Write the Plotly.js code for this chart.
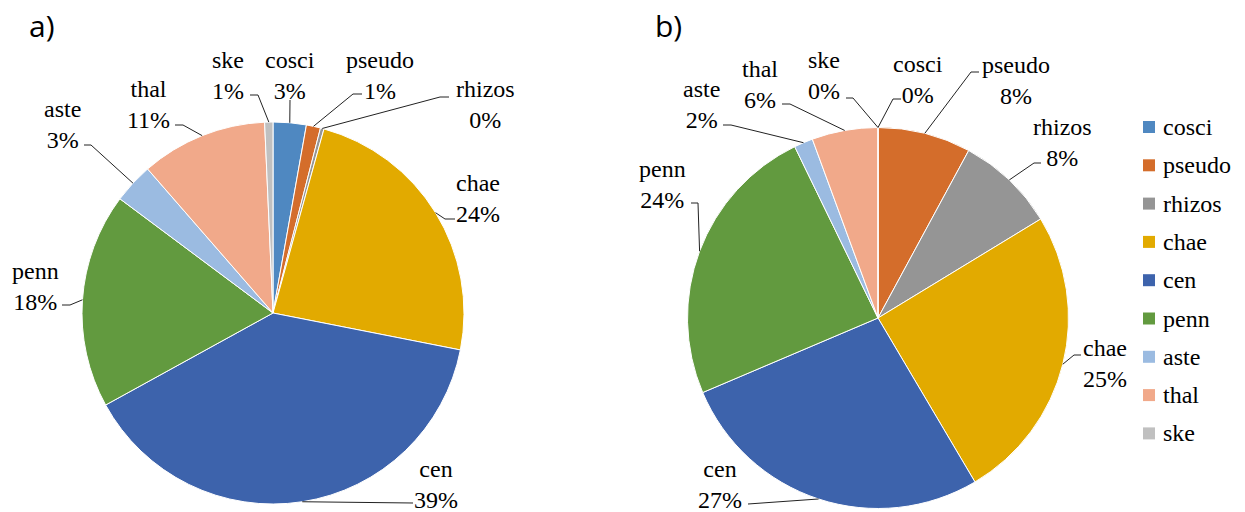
<!DOCTYPE html>
<html>
<head>
<meta charset="utf-8">
<script src="https://cdn.plot.ly/plotly-3.0.1.min.js"></script>
<style>html,body{margin:0;padding:0;background:#fff;}</style>
</head>
<body>
<div id="chart"></div>
<script>
// ---- data ----
const categories = ["cosci","pseudo","rhizos","chae","cen","penn","aste","thal","ske"];
const valuesA = [2.8, 1.2, 0.3, 23.8, 38.9, 18.2, 3.4, 10.7, 0.7];
const valuesB = [0, 7.9, 8.4, 25.2, 27.1, 24.2, 1.6, 5.6, 0];
const panelTitles = ["a)", "b)"];

// ---- styles / layout ----
const colors = ["#4F88C1","#D46D2B","#959595","#E2AA00","#3D63AC","#629A3F","#9BBBE1","#F1A98A","#C0C0C0"];
const W = 1245, H = 512;
const pieA = {cx: 273, cy: 313, r: 191};
const pieB = {cx: 878, cy: 318, r: 190.5};
// label block centres, leader start points and elbow x (pixels)
const labelLayoutA = [
  {c:[290,75],  s:[290,100], e:null},
  {c:[380,75],  s:[362,94],  e:353},
  {c:[485,104], s:[449,97],  e:440},
  {c:[478,198], s:[455,219], e:445},
  {c:[436,484], s:[413,503], e:null},
  {c:[35,286],  s:[62,305],  e:70},
  {c:[62,124],  s:[84,145],  e:91},
  {c:[148,104], s:[175,125], e:183},
  {c:[228,75],  s:[250,95],  e:258}
];
const labelLayoutB = [
  {c:[918,79],   s:[901,99],  e:893},
  {c:[1016,80],  s:[979,72],  e:971},
  {c:[1062,142], s:[1041,163],e:1034},
  {c:[1105,363], s:[1081,355],e:1074},
  {c:[720,484],  s:[748,504], e:null},
  {c:[662,184],  s:[691,203], e:698},
  {c:[701,104],  s:[723,125], e:731},
  {c:[760,84],   s:[782,104], e:790},
  {c:[824,75],   s:[846,98],  e:853}
];
const labelFont = "Liberation Serif";
const labelSize = 24;

const px = x => x / W;
const py = y => 1 - y / H;

function domainOf(p) {
  return {x: [px(p.cx - p.r), px(p.cx + p.r)], y: [py(p.cy + p.r), py(p.cy - p.r)]};
}

function pieTrace(vals, p) {
  return {
    type: "pie", labels: categories, values: vals, sort: false,
    direction: "clockwise", rotation: 0, textinfo: "none", hoverinfo: "label+percent",
    marker: {colors: colors, line: {color: "#ffffff", width: 1}},
    domain: domainOf(p), showlegend: false
  };
}

const annotations = [];
const shapes = [];

function addLabels(vals, p, lay) {
  const total = vals.reduce((a, b) => a + b, 0);
  let cum = 0;
  vals.forEach((v, i) => {
    const mid = (cum + v / 2) / total * 2 * Math.PI;
    cum += v;
    const ax = p.cx + p.r * Math.sin(mid);
    const ay = p.cy - p.r * Math.cos(mid);
    const pct = Math.round(v / total * 100);
    const L = lay[i];
    annotations.push({
      xref: "paper", yref: "paper", x: px(L.c[0]), y: py(L.c[1]),
      xanchor: "center", yanchor: "middle", showarrow: false, align: "center",
      text: categories[i] + "<br>" + pct + "%",
      font: {family: labelFont, size: labelSize, color: "#000000"}
    });
    let path = "M" + px(L.s[0]) + "," + py(L.s[1]);
    if (L.e !== null) path += " L" + px(L.e) + "," + py(L.s[1]);
    path += " L" + px(ax) + "," + py(ay);
    shapes.push({type: "path", xref: "paper", yref: "paper", path: path,
      line: {color: "#222222", width: 1}});
  });
}
addLabels(valuesA, pieA, labelLayoutA);
addLabels(valuesB, pieB, labelLayoutB);

// legend built from the categories and colours
categories.forEach((c, i) => {
  const yc = 127 + i * 38.3;
  shapes.push({type: "rect", xref: "paper", yref: "paper",
    x0: px(1143), x1: px(1155), y0: py(yc + 6), y1: py(yc - 6),
    fillcolor: colors[i], line: {width: 0}});
  annotations.push({xref: "paper", yref: "paper", x: px(1161), y: py(yc),
    xanchor: "left", yanchor: "middle", showarrow: false, text: c,
    font: {family: labelFont, size: labelSize, color: "#000000"}});
});

// panel titles
[[27, 25], [653, 25]].forEach((pos, i) => {
  annotations.push({xref: "paper", yref: "paper", x: px(pos[0]), y: py(pos[1]),
    xanchor: "left", yanchor: "middle", showarrow: false, text: panelTitles[i],
    font: {family: "Open Sans", size: 30, color: "#000000"}});
});

const layout = {
  width: W, height: H, margin: {l: 0, r: 0, t: 0, b: 0},
  font: {family: labelFont, size: labelSize, color: "#000000"},
  paper_bgcolor: "#ffffff", showlegend: false,
  annotations: annotations, shapes: shapes
};
Plotly.newPlot("chart", [pieTrace(valuesA, pieA), pieTrace(valuesB, pieB)], layout, {displayModeBar: false});
</script>
</body>
</html>
